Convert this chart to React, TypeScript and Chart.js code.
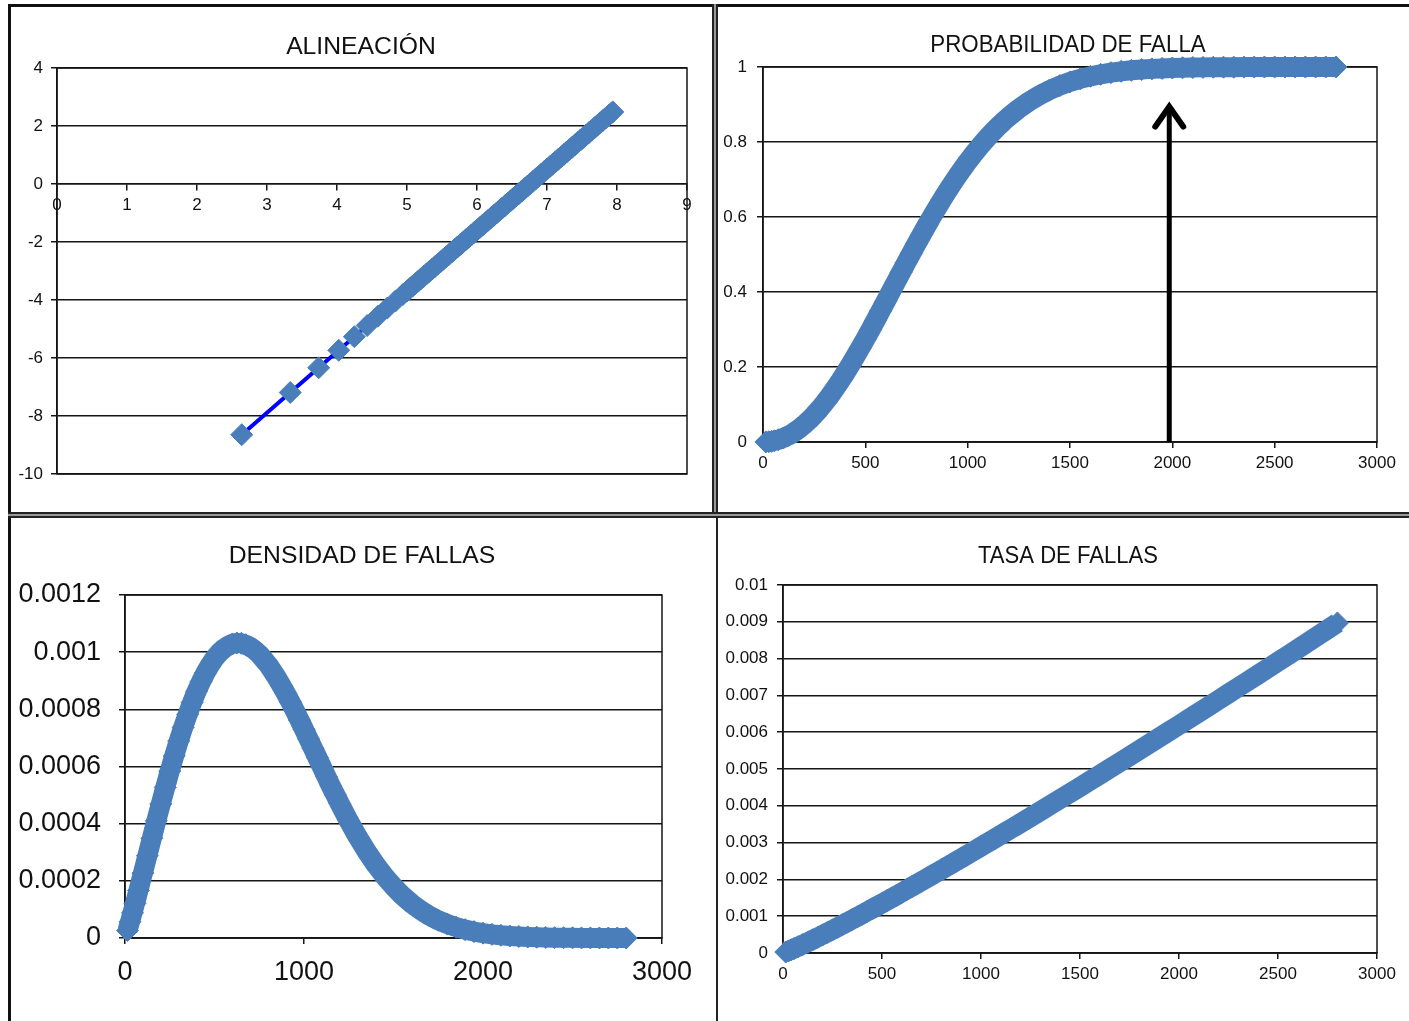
import React, { useEffect, useRef } from 'react';
import { Chart, registerables } from 'chart.js';

Chart.register(...registerables);

const FONT = '"Liberation Sans", Arial, Helvetica, sans-serif';
const MARKER = '#4A7EBB';
const GRID = '#151515';

// ---------- ALINEACIÓN (ln t vs ln(ln(1/(1-F)))) ----------
const ALN_X = [
  2.639, 3.332, 3.738, 4.025, 4.248, 4.431, 4.585, 4.718, 4.836, 4.942,
  5.0, 5.04, 5.08, 5.12, 5.16, 5.2, 5.24, 5.28, 5.32, 5.36, 5.4, 5.44, 5.48, 5.52, 5.56, 5.6,
  5.64, 5.68, 5.72, 5.76, 5.8, 5.84, 5.88, 5.92, 5.96, 6.0, 6.04, 6.08, 6.12, 6.16, 6.2, 6.24,
  6.28, 6.32, 6.36, 6.4, 6.44, 6.48, 6.52, 6.56, 6.6, 6.64, 6.68, 6.72, 6.76, 6.8, 6.84, 6.88,
  6.92, 6.96, 7.0, 7.04, 7.08, 7.12, 7.16, 7.2, 7.24, 7.28, 7.32, 7.36, 7.4, 7.44, 7.48, 7.52,
  7.56, 7.6, 7.64, 7.68, 7.72, 7.76, 7.8, 7.84, 7.88, 7.92, 7.94,
];
const ALN_Y = [
  -8.645, -7.19, -6.337, -5.735, -5.266, -4.882, -4.559, -4.279, -4.032, -3.809,
  -3.687, -3.603, -3.519, -3.435, -3.351, -3.267, -3.183, -3.099, -3.015, -2.931, -2.847,
  -2.763, -2.679, -2.595, -2.511, -2.427, -2.343, -2.259, -2.175, -2.091, -2.007, -1.923,
  -1.839, -1.755, -1.671, -1.587, -1.503, -1.419, -1.335, -1.251, -1.167, -1.083, -0.999,
  -0.915, -0.831, -0.747, -0.663, -0.579, -0.495, -0.411, -0.327, -0.243, -0.159, -0.075,
  0.009, 0.093, 0.177, 0.261, 0.345, 0.429, 0.513, 0.597, 0.681, 0.765, 0.849, 0.933, 1.017,
  1.101, 1.185, 1.269, 1.353, 1.437, 1.521, 1.605, 1.689, 1.773, 1.857, 1.941, 2.025, 2.109,
  2.193, 2.277, 2.361, 2.445, 2.487,
];
const ALN_X_TICKS = [0, 1, 2, 3, 4, 5, 6, 7, 8, 9];
const ALN_X_LABELS = ['0', '1', '2', '3', '4', '5', '6', '7', '8', '9'];
const ALN_Y_TICKS = [-10, -8, -6, -4, -2, 0, 2, 4];
const ALN_Y_LABELS = ['-10', '-8', '-6', '-4', '-2', '0', '2', '4'];

// ---------- time (hours) ----------
const T_HOURS = [
  14, 28, 42, 56, 75, 100, 125, 150, 175, 200, 225, 250, 275, 300, 325, 350, 375, 400, 425,
  450, 475, 500, 525, 550, 575, 600, 625, 650, 675, 700, 725, 750, 775, 800, 825, 850, 875,
  900, 925, 950, 975, 1000, 1025, 1050, 1075, 1100, 1125, 1150, 1175, 1200, 1250, 1300, 1350,
  1400, 1450, 1500, 1550, 1600, 1650, 1700, 1750, 1800, 1850, 1900, 1950, 2000, 2050, 2100,
  2150, 2200, 2250, 2300, 2350, 2400, 2450, 2500, 2550, 2600, 2650, 2700, 2750, 2800,
];

// ---------- PROBABILIDAD DE FALLA ----------
const PROB = [
  0.00018, 0.00075, 0.00177, 0.00323, 0.00596, 0.0109, 0.0173, 0.0253, 0.0348, 0.0458, 0.0582,
  0.0721, 0.0874, 0.104, 0.1218, 0.1408, 0.1609, 0.182, 0.204, 0.2268, 0.2504, 0.2745, 0.2992,
  0.3243, 0.3498, 0.3754, 0.4012, 0.427, 0.4527, 0.4783, 0.5036, 0.5286, 0.5532, 0.5773, 0.601,
  0.6239, 0.6463, 0.6681, 0.6891, 0.7093, 0.7287, 0.7474, 0.7652, 0.7822, 0.7984, 0.8138,
  0.8283, 0.842, 0.8549, 0.8671, 0.889, 0.9081, 0.9245, 0.9385, 0.9503, 0.9602, 0.9684, 0.9751,
  0.9805, 0.9849, 0.9884, 0.9912, 0.9933, 0.995, 0.9963, 0.9973, 0.998, 0.9985, 0.999, 0.9993,
  0.9995, 0.9996, 0.9997, 0.9998, 0.9999, 0.9999, 1, 1, 1, 1, 1, 1,
];

// ---------- DENSIDAD DE FALLAS ----------
const DENS = [
  0.0000264, 0.0000566, 0.0000882, 0.000121, 0.000166, 0.000227, 0.000288, 0.000349, 0.00041,
  0.000469, 0.000527, 0.000584, 0.000637, 0.000689, 0.000737, 0.000782, 0.000824, 0.000863,
  0.000897, 0.000928, 0.000955, 0.000978, 0.000997, 0.001011, 0.001022, 0.001029, 0.001032,
  0.001031, 0.001026, 0.001018, 0.001007, 0.000993, 0.000975, 0.000956, 0.000933, 0.000909,
  0.000882, 0.000854, 0.000825, 0.000794, 0.000762, 0.00073, 0.000697, 0.000664, 0.000631,
  0.000598, 0.000565, 0.000532, 0.000501, 0.00047, 0.00041, 0.000354, 0.000303, 0.000257,
  0.000216, 0.00018, 0.000148, 0.000121, 0.0000977, 0.0000782, 0.000062, 0.0000488, 0.000038,
  0.0000293, 0.0000224, 0.000017, 0.0000128, 0.0000095, 0.000007, 0.0000051, 0.0000037,
  0.0000027, 0.0000019, 0.0000013, 0.0000009, 0.0000006, 0.0000004, 0.0000003, 0.0000002,
  0.0000001, 0.0000001, 0.0000001,
];

// ---------- TASA DE FALLAS ----------
const TASA = [
  0.0000264, 0.0000566, 0.0000884, 0.000121, 0.000167, 0.00023, 0.000293, 0.000359, 0.000425,
  0.000492, 0.00056, 0.000629, 0.000698, 0.000769, 0.000839, 0.00091, 0.000982, 0.001055,
  0.001127, 0.0012, 0.001274, 0.001348, 0.001422, 0.001497, 0.001572, 0.001647, 0.001723,
  0.001799, 0.001875, 0.001952, 0.002029, 0.002106, 0.002183, 0.002261, 0.002339, 0.002416,
  0.002494, 0.002573, 0.002652, 0.002731, 0.00281, 0.00289, 0.002969, 0.003049, 0.003129,
  0.003209, 0.003289, 0.00337, 0.00345, 0.003531, 0.003693, 0.003856, 0.00402, 0.004183,
  0.004348, 0.004513, 0.004679, 0.004846, 0.005012, 0.00518, 0.005348, 0.005515, 0.005684,
  0.005854, 0.006024, 0.006193, 0.006364, 0.006535, 0.006706, 0.006878, 0.007051, 0.007223,
  0.007396, 0.007568, 0.007742, 0.007916, 0.00809, 0.008267, 0.008441, 0.008616, 0.008793,
  0.008969,
];

const T_X_TICKS = [0, 500, 1000, 1500, 2000, 2500, 3000];
const T_X_LABELS = ['0', '500', '1000', '1500', '2000', '2500', '3000'];
const DENS_X_TICKS = [0, 1000, 2000, 3000];
const DENS_X_LABELS = ['0', '1000', '2000', '3000'];
const PROB_Y_TICKS = [0, 0.2, 0.4, 0.6, 0.8, 1];
const PROB_Y_LABELS = ['0', '0.2', '0.4', '0.6', '0.8', '1'];
const DENS_Y_TICKS = [0, 0.0002, 0.0004, 0.0006, 0.0008, 0.001, 0.0012];
const DENS_Y_LABELS = ['0', '0.0002', '0.0004', '0.0006', '0.0008', '0.001', '0.0012'];
const TASA_Y_TICKS = [0, 0.001, 0.002, 0.003, 0.004, 0.005, 0.006, 0.007, 0.008, 0.009, 0.01];
const TASA_Y_LABELS = ['0', '0.001', '0.002', '0.003', '0.004', '0.005', '0.006', '0.007', '0.008', '0.009', '0.01'];

// arrow annotation on PROBABILIDAD DE FALLA (x in hours, y from/to probability)
const ARROW_AT = [1985];
const ARROW_SPAN = [0, 0.905];

const decorPlugin = {
  id: 'panelDecor',
  beforeDatasetsDraw(chart: any) {
    const { ctx, chartArea: a } = chart;
    ctx.save();
    ctx.strokeStyle = GRID;
    ctx.lineWidth = 1.5;
    ctx.strokeRect(a.left, a.top, a.right - a.left, a.bottom - a.top);
    ctx.restore();
  },
  afterDatasetsDraw(chart: any, _a: any, opts: any) {
    if (!opts.arrow) return;
    const { ctx } = chart;
    const xs = chart.scales.x;
    const ys = chart.scales.y;
    const px = xs.getPixelForValue(ARROW_AT[0]);
    const p0 = ys.getPixelForValue(ARROW_SPAN[0]);
    const p1 = ys.getPixelForValue(ARROW_SPAN[1]);
    ctx.save();
    ctx.strokeStyle = '#000';
    ctx.lineWidth = 5;
    ctx.beginPath();
    ctx.moveTo(px, p0);
    ctx.lineTo(px, p1 + 4);
    ctx.stroke();
    ctx.lineWidth = 6;
    ctx.lineJoin = 'miter';
    ctx.lineCap = 'round';
    ctx.beginPath();
    ctx.moveTo(px - 14, p1 + 24);
    ctx.lineTo(px, p1 + 4);
    ctx.lineTo(px + 14, p1 + 24);
    ctx.stroke();
    ctx.restore();
  },
  afterDraw(chart: any, _a: any, opts: any) {
    const { ctx } = chart;
    ctx.save();
    ctx.font = `${opts.size}px ${FONT}`;
    ctx.fillStyle = '#111';
    ctx.textAlign = 'center';
    ctx.textBaseline = 'middle';
    ctx.translate(opts.x, opts.y);
    ctx.scale(opts.sx, 1);
    ctx.fillText(opts.title, 0, 0);
    ctx.restore();
  },
};

type AxisSpec = {
  min: number;
  max: number;
  ticks: number[];
  labels: string[];
  size: number;
  padding: number;
  fit: number;
};

function xAxis(s: AxisSpec, atZero: boolean) {
  return {
    type: 'linear',
    min: s.min,
    max: s.max,
    position: atZero ? { y: 0 } : 'bottom',
    afterBuildTicks: (ax: any) => {
      ax.ticks = s.ticks.map((v) => ({ value: v }));
    },
    afterFit: (ax: any) => {
      ax.height = s.fit;
    },
    grid: { drawOnChartArea: false, drawTicks: true, tickLength: 6, color: GRID, lineWidth: 1.5 },
    border: { display: true, color: GRID, width: 1.5 },
    ticks: {
      autoSkip: false,
      maxRotation: 0,
      padding: s.padding,
      color: '#111',
      font: { family: FONT, size: s.size },
      callback: (_v: any, i: number) => s.labels[i],
    },
  };
}

function yAxis(s: AxisSpec) {
  return {
    type: 'linear',
    min: s.min,
    max: s.max,
    position: 'left',
    afterBuildTicks: (ax: any) => {
      ax.ticks = s.ticks.map((v) => ({ value: v }));
    },
    afterFit: (ax: any) => {
      ax.width = s.fit;
    },
    grid: { drawOnChartArea: true, drawTicks: true, tickLength: 6, color: GRID, lineWidth: 1.5 },
    border: { display: true, color: GRID, width: 1.5 },
    ticks: {
      autoSkip: false,
      padding: s.padding,
      color: '#111',
      font: { family: FONT, size: s.size },
      callback: (_v: any, i: number) => s.labels[i],
    },
  };
}

function makeConfig(p: {
  xs: number[];
  ys: number[];
  lineColor: string;
  lineWidth: number;
  x: AxisSpec;
  y: AxisSpec;
  xAtZero: boolean;
  pad: { top: number; right: number; bottom: number; left: number };
  title: { title: string; x: number; y: number; size: number; sx: number; arrow?: boolean };
}) {
  return {
    type: 'scatter',
    data: {
      datasets: [
        {
          data: p.xs.map((x, i) => ({ x, y: p.ys[i] })),
          showLine: true,
          borderColor: p.lineColor,
          borderWidth: p.lineWidth,
          borderJoinStyle: 'round',
          borderCapStyle: 'butt',
          backgroundColor: MARKER,
          pointStyle: 'rectRot',
          pointRadius: 11,
          pointBorderColor: MARKER,
          pointBackgroundColor: MARKER,
          pointBorderWidth: 1,
          tension: 0,
          clip: false,
        },
      ],
    },
    options: {
      responsive: false,
      animation: false,
      devicePixelRatio: 1,
      events: [],
      layout: { padding: p.pad },
      plugins: {
        legend: { display: false },
        tooltip: { enabled: false },
        title: { display: false },
        panelDecor: p.title,
      },
      scales: {
        x: xAxis(p.x, p.xAtZero),
        y: yAxis(p.y),
      },
    },
    plugins: [decorPlugin],
  };
}

function Panel({ left, top, width, height, config }: any) {
  const ref = useRef<HTMLCanvasElement>(null);
  useEffect(() => {
    const chart = new Chart(ref.current as HTMLCanvasElement, config as any);
    return () => chart.destroy();
  }, []);
  return (
    <canvas
      ref={ref}
      width={width}
      height={height}
      style={{ position: 'absolute', left, top, width, height, display: 'block' }}
    />
  );
}

const cfgAlin = makeConfig({
  xs: ALN_X,
  ys: ALN_Y,
  lineColor: '#0000FF',
  lineWidth: 4,
  x: { min: 0, max: 9, ticks: ALN_X_TICKS, labels: ALN_X_LABELS, size: 17, padding: 5, fit: 30 },
  y: { min: -10, max: 4, ticks: ALN_Y_TICKS, labels: ALN_Y_LABELS, size: 17, padding: 8, fit: 46 },
  xAtZero: true,
  pad: { top: 61, right: 25, bottom: 38, left: 0 },
  title: { title: 'ALINEACIÓN', x: 350, y: 40, size: 24, sx: 1.03 },
});

const cfgProb = makeConfig({
  xs: T_HOURS,
  ys: PROB,
  lineColor: MARKER,
  lineWidth: 20,
  x: { min: 0, max: 3000, ticks: T_X_TICKS, labels: T_X_LABELS, size: 17, padding: 5, fit: 40 },
  y: { min: 0, max: 1, ticks: PROB_Y_TICKS, labels: PROB_Y_LABELS, size: 17, padding: 10, fit: 45 },
  xAtZero: false,
  pad: { top: 60, right: 32, bottom: 30, left: 0 },
  title: { title: 'PROBABILIDAD DE FALLA', x: 350, y: 38, size: 24, sx: 0.93, arrow: true },
});

const cfgDens = makeConfig({
  xs: T_HOURS,
  ys: DENS,
  lineColor: MARKER,
  lineWidth: 20,
  x: { min: 0, max: 3000, ticks: DENS_X_TICKS, labels: DENS_X_LABELS, size: 27, padding: 12, fit: 50 },
  y: { min: 0, max: 0.0012, ticks: DENS_Y_TICKS, labels: DENS_Y_LABELS, size: 27, padding: 18, fit: 114 },
  xAtZero: false,
  pad: { top: 77, right: 54, bottom: 33, left: 0 },
  title: { title: 'DENSIDAD DE FALLAS', x: 351, y: 38, size: 24, sx: 1.03 },
});

const cfgTasa = makeConfig({
  xs: T_HOURS,
  ys: TASA,
  lineColor: MARKER,
  lineWidth: 20,
  x: { min: 0, max: 3000, ticks: T_X_TICKS, labels: T_X_LABELS, size: 17, padding: 5, fit: 40 },
  y: { min: 0, max: 0.01, ticks: TASA_Y_TICKS, labels: TASA_Y_LABELS, size: 17, padding: 9, fit: 65 },
  xAtZero: false,
  pad: { top: 67, right: 32, bottom: 28, left: 0 },
  title: { title: 'TASA DE FALLAS', x: 350, y: 38, size: 24, sx: 0.92 },
});

const LINES = [
  { l: 8, t: 4, w: 1401, h: 3, c: '#111' },
  { l: 8, t: 4, w: 3, h: 1017, c: '#111' },
  { l: 714, t: 4, w: 2, h: 510, c: '#999' },
  { l: 712, t: 4, w: 2, h: 510, c: '#222' },
  { l: 716, t: 4, w: 2, h: 1017, c: '#222' },
  { l: 8, t: 514, w: 1401, h: 2, c: '#999' },
  { l: 8, t: 512, w: 1401, h: 2, c: '#222' },
  { l: 8, t: 516, w: 1401, h: 2, c: '#222' },
];

export default function App() {
  return (
    <div
      style={{
        position: 'absolute',
        left: 0,
        top: 0,
        width: 1409,
        height: 1021,
        background: '#fff',
        overflow: 'hidden',
      }}
    >
      <Panel left={11} top={7} width={701} height={505} config={cfgAlin} />
      <Panel left={718} top={7} width={691} height={505} config={cfgProb} />
      <Panel left={11} top={518} width={705} height={503} config={cfgDens} />
      <Panel left={718} top={518} width={691} height={503} config={cfgTasa} />
      {LINES.map((ln, i) => (
        <div
          key={i}
          style={{ position: 'absolute', left: ln.l, top: ln.t, width: ln.w, height: ln.h, background: ln.c }}
        />
      ))}
    </div>
  );
}
